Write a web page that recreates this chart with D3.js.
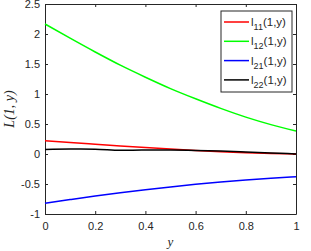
<!DOCTYPE html>
<html>
<head>
<meta charset="utf-8">
<script src="https://cdn.jsdelivr.net/npm/d3@7"></script>
<style>
  body { margin: 0; background: #fff; }
  text { font-family: "Liberation Sans", Arial, sans-serif; }
</style>
</head>
<body>
<svg id="chart" width="311" height="251"></svg>
<script>
// sample positions along y
const yVals = [0, 0.1, 0.2, 0.3, 0.4, 0.5, 0.6, 0.7, 0.8, 0.9, 1];

// series values
const l11 = [0.22, 0.19, 0.162, 0.135, 0.108, 0.082, 0.058, 0.038, 0.022, 0.01, 0.0];
const l12 = [2.167, 1.93, 1.70, 1.48, 1.28, 1.09, 0.92, 0.76, 0.615, 0.49, 0.385];
const l21 = [-0.822, -0.76, -0.70, -0.645, -0.595, -0.548, -0.505, -0.468, -0.435, -0.405, -0.378];
const l22 = [0.075, 0.082, 0.08, 0.063, 0.066, 0.066, 0.06, 0.048, 0.032, 0.016, 0.002];

const xTicks = [0, 0.2, 0.4, 0.6, 0.8, 1];
const yTicks = [-1, -0.5, 0, 0.5, 1, 1.5, 2, 2.5];

const series = [
  { sub: "11", values: l11, color: "#ff0000" },
  { sub: "12", values: l12, color: "#00ff00" },
  { sub: "21", values: l21, color: "#0000ff" },
  { sub: "22", values: l22, color: "#000000" }
];

const svg = d3.select("#chart");
const margin = { top: 4, right: 15, bottom: 37, left: 45 };
const width = 311;
const height = 251;
const axisColor = "#262626";

const x = d3.scaleLinear().domain([0, 1]).range([margin.left, width - margin.right]);
const y = d3.scaleLinear().domain([-1, 2.5]).range([height - margin.bottom, margin.top]);

// axes, ticks inward on all four sides
const fmt = d => String(d);
const axisBottomG = svg.append("g")
  .attr("transform", `translate(0,${height - margin.bottom})`)
  .call(d3.axisBottom(x).tickValues(xTicks).tickFormat(fmt).tickSizeInner(-3).tickSizeOuter(0).tickPadding(8));
const axisLeftG = svg.append("g")
  .attr("transform", `translate(${margin.left},0)`)
  .call(d3.axisLeft(y).tickValues(yTicks).tickFormat(fmt).tickSizeInner(-3).tickSizeOuter(0).tickPadding(5));
const axisTopG = svg.append("g")
  .attr("transform", `translate(0,${margin.top})`)
  .call(d3.axisTop(x).tickValues(xTicks).tickFormat("").tickSizeInner(-3).tickSizeOuter(0));
const axisRightG = svg.append("g")
  .attr("transform", `translate(${width - margin.right},0)`)
  .call(d3.axisRight(y).tickValues(yTicks).tickFormat("").tickSizeInner(-3).tickSizeOuter(0));

[axisBottomG, axisLeftG, axisTopG, axisRightG].forEach(g => {
  g.selectAll("path, line").attr("stroke", axisColor).attr("stroke-width", 1);
  g.selectAll("text").attr("fill", axisColor).style("font-size", "11px")
    .style("font-family", "'Liberation Sans', Arial, sans-serif");
});

// lines
const line = d3.line()
  .x((d, i) => x(yVals[i]))
  .y(d => y(d))
  .curve(d3.curveMonotoneX);

series.forEach(s => {
  svg.append("path")
    .datum(s.values)
    .attr("fill", "none")
    .attr("stroke", s.color)
    .attr("stroke-width", 1.5)
    .attr("d", line);
});

// axis labels
svg.append("text")
  .attr("x", x(0.5))
  .attr("y", 246)
  .attr("text-anchor", "middle")
  .style("font-family", "'Liberation Serif', 'Times New Roman', serif")
  .style("font-style", "italic")
  .style("font-size", "13px")
  .attr("fill", axisColor)
  .text("y");

svg.append("text")
  .attr("transform", `translate(14,${y(0.75)}) rotate(-90)`)
  .attr("text-anchor", "middle")
  .style("font-family", "'Liberation Serif', 'Times New Roman', serif")
  .style("font-style", "italic")
  .style("font-size", "14px")
  .attr("fill", axisColor)
  .text("L(1, y)");

// legend
const legend = svg.append("g");
legend.append("rect")
  .attr("x", 221).attr("y", 11)
  .attr("width", 71).attr("height", 81)
  .attr("fill", "#fff")
  .attr("stroke", axisColor)
  .attr("stroke-width", 1);

series.forEach((s, i) => {
  const ly = 22 + i * 19.3;
  legend.append("line")
    .attr("x1", 224).attr("x2", 249)
    .attr("y1", ly).attr("y2", ly)
    .attr("stroke", s.color)
    .attr("stroke-width", 1.5);
  const t = legend.append("text")
    .attr("x", 251).attr("y", ly + 4)
    .attr("fill", axisColor)
    .style("font-size", "11.5px");
  t.append("tspan").text("l");
  t.append("tspan").attr("dy", 4).style("font-size", "9px").text(s.sub);
  t.append("tspan").attr("dy", -4).text("(1,y)");
});
</script>
</body>
</html>
